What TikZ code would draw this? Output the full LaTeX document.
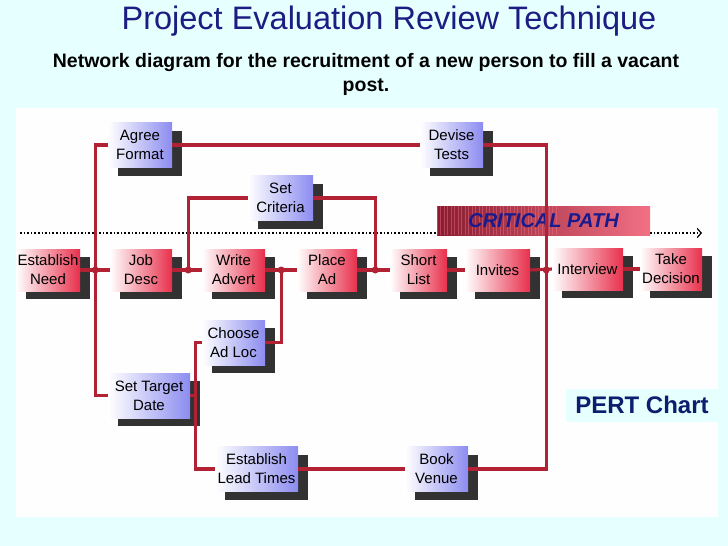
\documentclass[tikz,border=0pt]{standalone}
\usepackage{fontspec}
\setmainfont{Liberation Sans}
\usepackage{tikz}
\usetikzlibrary{shadows,arrows.meta,positioning}

\definecolor{fondo}{RGB}{230,255,255}
\definecolor{panel}{RGB}{254,254,254}
\definecolor{linea}{RGB}{178,34,52}
\definecolor{rojo}{RGB}{232,48,76}
\definecolor{azul}{RGB}{140,140,240}
\definecolor{sombra}{RGB}{50,50,50}
\definecolor{titulo}{RGB}{28,28,130}
\definecolor{marino}{RGB}{12,30,110}
\definecolor{granate}{RGB}{135,28,48}
\definecolor{rosa}{RGB}{242,112,132}

\begin{document}
\begin{tikzpicture}[x=1pt, y=-1pt,
        crit/.style={left color=white, right color=rojo, minimum width=#1, minimum height=42pt, inner sep=0pt, align=center, font=\fontsize{15}{19}\selectfont, drop shadow={shadow xshift=10pt, shadow yshift=-8pt, fill=sombra, opacity=1}},
        task/.style={left color=white, right color=azul, minimum width=#1, minimum height=45pt, inner sep=0pt, align=center, font=\fontsize{15}{19}\selectfont, drop shadow={shadow xshift=10pt, shadow yshift=-8pt, fill=sombra, opacity=1}},
        link/.style={draw=linea, line width=3.1pt},
        dot/.style={circle, fill=linea, inner sep=0pt, minimum size=7pt},
        banner/.style={left color=granate, right color=rosa, minimum width=213pt, minimum height=29pt, inner sep=0pt,
            path picture={\foreach \i in {0,...,34} \draw[rosa, opacity=0.45, line width=1pt] ([xshift=\i*3.5pt]path picture bounding box.north west) -- ([xshift=\i*3.5pt]path picture bounding box.south west);}}
    ]
        % Fondo y panel
        \useasboundingbox (0,0) rectangle (728,546);
        \fill[fondo] (0,0) rectangle (728,546);
        \fill[panel] (16,108) rectangle (718,517);
        % Titulos
        \node[text=titulo, font=\fontsize{32.5}{38}\selectfont] (title) at (389,21) {Project Evaluation Review Technique};
        \node[font=\bfseries\fontsize{19.5}{24}\selectfont, align=center] (subtitle) at (366,74) {Network diagram for the recruitment of a new person to fill a vacant\\post.};
        % Camino critico
        \coordinate (cp0) at (20,233);
        \coordinate (cp1) at (702,233);
        \draw[dotted, line width=1.6pt, -{Straight Barb[length=4pt,width=9pt,line width=1.2pt]}] (cp0) -- (cp1);
        \node[banner] (cpbar) at (543.5,220.5) {};
        \node[text={rgb,255:red,26;green,26;blue,140}, font=\bfseries\itshape\fontsize{20}{24}\selectfont] (cplabel) at (cpbar) {CRITICAL PATH};
        % Tareas del camino critico
        \node[crit=64pt] (EN) at (48,270) {Establish\\Need};
        \node[crit=62pt] (JD) at (141,270) {Job\\Desc};
        \node[crit=63pt] (WA) at (233.5,270) {Write\\Advert};
        \node[crit=60pt] (PA) at (327,270) {Place\\Ad};
        \node[crit=57pt] (SL) at (418.5,270) {Short\\List};
        \node[crit=65pt] (IN) at (497.5,270) {Invites};
        \node[crit=71pt] (IV) at (587.5,269) {Interview};
        \node[crit=62pt] (TD) at (671,269) {Take\\Decision};
        % Tareas con holgura
        \node[task=64pt] (AF) at (140,145) {Agree\\Format};
        \node[task=63pt] (DT) at (451.5,145) {Devise\\Tests};
        \node[task=65pt] (SC) at (280.5,198) {Set\\Criteria};
        \node[task=63pt] (CAL) at (233.5,342.5) {Choose\\Ad Loc};
        \node[task=82pt] (STD) at (149,395.5) {Set Target\\Date};
        \node[task=83pt] (ELT) at (256.5,469) {Establish\\Lead Times};
        \node[task=63pt] (BV) at (436.5,469) {Book\\Venue};
        % Puntos de union
        \coordinate (j1) at ([xshift=15pt]EN.east);
        \coordinate (j2) at ([xshift=16pt]JD.east);
        \coordinate (j4) at ([xshift=16pt]WA.east);
        \coordinate (j3) at ([xshift=18pt]PA.east);
        \coordinate (j5) at ([xshift=16pt]IN.east);
        \coordinate (j6) at ([xshift=5pt]STD.east);
        % Conexiones
        \draw[link] (EN.east) -- (JD.west);
        \draw[link] (j1) |- (AF.west);
        \draw[link] (j1) |- (STD.west);
        \draw[link] (AF.east) -- (DT.west);
        \draw[link] (DT.east) -| (j5);
        \draw[link] (BV.east) -| (j5);
        \draw[link] (JD.east) -- (WA.west);
        \draw[link] (j2) |- (SC.west);
        \draw[link] (SC.east) -| (j3);
        \draw[link] (WA.east) -- (PA.west);
        \draw[link] (CAL.east) -| (j4);
        \draw[link] (PA.east) -- (SL.west);
        \draw[link] (SL.east) -- (IN.west);
        \draw[link] (IN.east) -- (IV.west);
        \draw[link] (IV.east) -- (TD.west);
        \draw[link] (STD.east) -- (j6);
        \draw[link] (j6) |- (CAL.west);
        \draw[link] (j6) |- (ELT.west);
        \draw[link] (ELT.east) -- (BV.west);
        \foreach \j in {j1,j2,j3,j4,j5}
            \node[dot] at (\j) {};
        % Leyenda
        \node[fill=fondo, minimum width=152pt, minimum height=33pt, font=\bfseries\fontsize{24}{28}\selectfont, text=marino] (pert) at (642,405) {PERT Chart};
    \end{tikzpicture}
\end{document}
